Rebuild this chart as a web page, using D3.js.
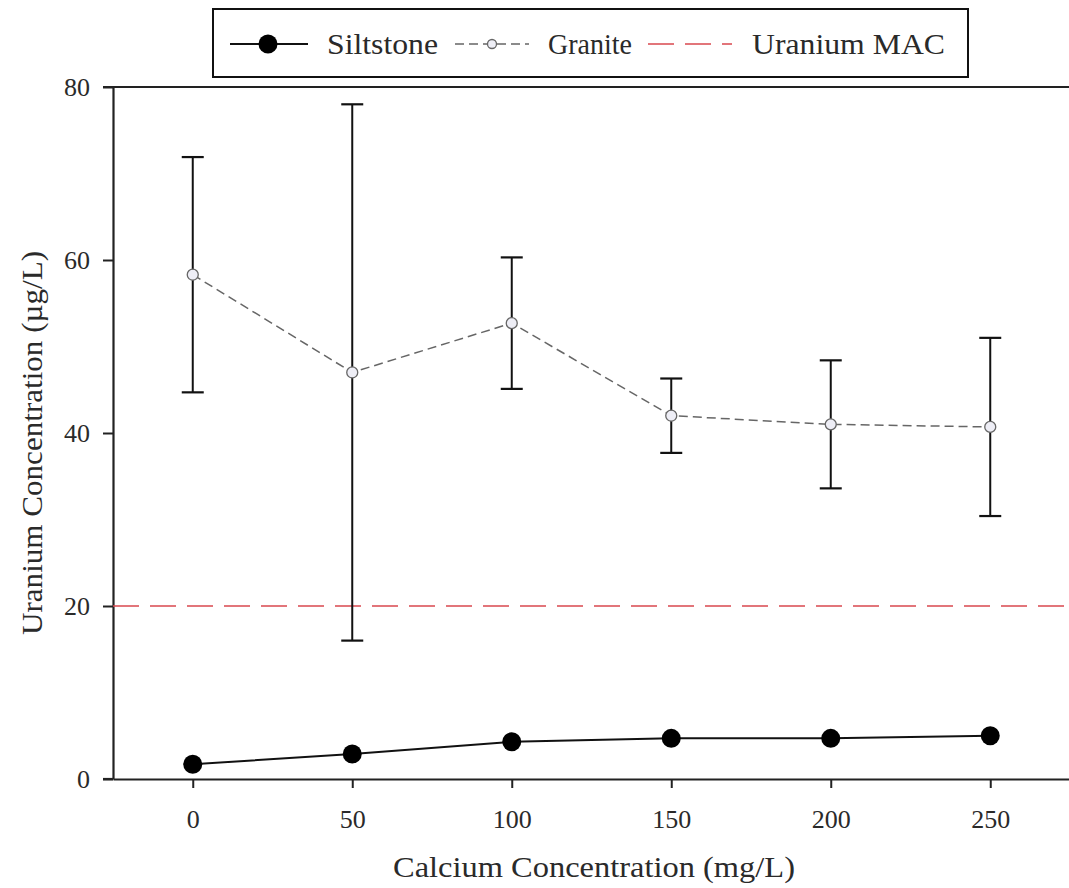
<!DOCTYPE html>
<html>
<head>
<meta charset="utf-8">
<script src="https://cdn.jsdelivr.net/npm/d3@7"></script>
<style>
  html, body { margin: 0; padding: 0; background: #fff; }
  svg { display: block; font-family: "Liberation Serif", "Times New Roman", serif; }
</style>
</head>
<body>
<svg id="chart" width="1069" height="888"></svg>
<script>
// Calcium concentration levels (mg/L)
const calcium = [0, 50, 100, 150, 200, 250];
// Mean uranium concentration (µg/L)
const siltstone = [1.7, 2.9, 4.3, 4.7, 4.7, 5.0];
const granite = [58.3, 47.0, 52.7, 42.0, 41.0, 40.7];
// Standard deviation for granite
const graniteSD = [13.6, 31.0, 7.6, 4.3, 7.4, 10.3];
// Maximum acceptable concentration for uranium
const uraniumMAC = 20;
const xTicks = [0, 50, 100, 150, 200, 250];
const yTicks = [0, 20, 40, 60, 80];

(function () {
const svg = d3.select("#chart");
const pL = 113, pR = 1070, pT = 87, pB = 779;

const x = d3.scaleLinear().domain([-25, 275]).range([pL, pR]);
const y = d3.scaleLinear().domain([0, 80]).range([pB, pT]);

// axes
const xAxis = svg.append("g")
  .attr("transform", `translate(0,${pB})`)
  .call(d3.axisBottom(x).tickValues(xTicks).tickSize(9).tickPadding(22).tickSizeOuter(0));
const yAxis = svg.append("g")
  .attr("transform", `translate(${pL},0)`)
  .call(d3.axisLeft(y).tickValues(yTicks).tickSize(10).tickPadding(13).tickSizeOuter(0));

[xAxis, yAxis].forEach(g => {
  g.select(".domain").attr("stroke", "#222").attr("stroke-width", 2.2);
  g.selectAll(".tick line").attr("stroke", "#222").attr("stroke-width", 2);
  g.selectAll(".tick text").attr("fill", "#2a2a2a").style("font-size", "26px")
    .style("font-family", "Liberation Serif, serif");
});
// extend bottom axis a bit left of the y axis
svg.append("line").attr("x1", 103).attr("x2", pL).attr("y1", pB).attr("y2", pB)
  .attr("stroke", "#222").attr("stroke-width", 2.2);
// top frame line
svg.append("line").attr("x1", 103).attr("x2", 1069).attr("y1", pT).attr("y2", pT)
  .attr("stroke", "#222").attr("stroke-width", 2.2);

// MAC reference line
svg.append("line")
  .attr("x1", pL).attr("x2", 1069)
  .attr("y1", y(uraniumMAC)).attr("y2", y(uraniumMAC))
  .attr("stroke", "#d9484f").attr("stroke-width", 1.3)
  .attr("stroke-dasharray", "26,11");

// granite error bars
const eb = svg.append("g");
calcium.forEach((c, i) => {
  const hi = y(granite[i] + graniteSD[i]), lo = y(granite[i] - graniteSD[i]);
  eb.append("line").attr("x1", x(c)).attr("x2", x(c)).attr("y1", hi).attr("y2", lo)
    .attr("stroke", "#111").attr("stroke-width", 2);
  [hi, lo].forEach(v => eb.append("line")
    .attr("x1", x(c) - 11).attr("x2", x(c) + 11).attr("y1", v).attr("y2", v)
    .attr("stroke", "#111").attr("stroke-width", 2.2));
});

// granite line
const line = d3.line().x((d, i) => x(calcium[i])).y(d => y(d));
svg.append("path").datum(granite).attr("d", line)
  .attr("fill", "none").attr("stroke", "#666").attr("stroke-width", 1.5)
  .attr("stroke-dasharray", "9,5");
svg.append("g").selectAll("circle").data(granite).join("circle")
  .attr("cx", (d, i) => x(calcium[i])).attr("cy", d => y(d)).attr("r", 5.5)
  .attr("fill", "#eeeef6").attr("stroke", "#666").attr("stroke-width", 1.3);

// siltstone line
svg.append("path").datum(siltstone).attr("d", line)
  .attr("fill", "none").attr("stroke", "#111").attr("stroke-width", 2);
svg.append("g").selectAll("circle").data(siltstone).join("circle")
  .attr("cx", (d, i) => x(calcium[i])).attr("cy", d => y(d)).attr("r", 9.5)
  .attr("fill", "#000");

// axis titles
svg.append("text").attr("x", 594).attr("y", 877)
  .attr("text-anchor", "middle").style("font-size", "30px").attr("fill", "#2a2a2a")
  .attr("textLength", 402).attr("lengthAdjust", "spacingAndGlyphs")
  .text("Calcium Concentration (mg/L)");
svg.append("text")
  .attr("transform", `translate(42,443) rotate(-90)`)
  .attr("text-anchor", "middle").style("font-size", "30px").attr("fill", "#2a2a2a")
  .attr("textLength", 384).attr("lengthAdjust", "spacingAndGlyphs")
  .text("Uranium Concentration (µg/L)");

// legend
const lg = svg.append("g");
lg.append("rect").attr("x", 213).attr("y", 9).attr("width", 755).attr("height", 68)
  .attr("fill", "#fff").attr("stroke", "#111").attr("stroke-width", 2);
const ly = 44;
const legendText = (x0, w, label) => lg.append("text").attr("x", x0).attr("y", ly + 10)
  .style("font-size", "30px").attr("fill", "#2a2a2a")
  .attr("textLength", w).attr("lengthAdjust", "spacingAndGlyphs").text(label);
lg.append("line").attr("x1", 230).attr("x2", 308).attr("y1", ly).attr("y2", ly)
  .attr("stroke", "#111").attr("stroke-width", 2);
lg.append("circle").attr("cx", 268).attr("cy", ly).attr("r", 9.5).attr("fill", "#000");
legendText(327, 111, "Siltstone");
lg.append("line").attr("x1", 455).attr("x2", 529).attr("y1", ly).attr("y2", ly)
  .attr("stroke", "#666").attr("stroke-width", 1.5).attr("stroke-dasharray", "9,5");
lg.append("circle").attr("cx", 492).attr("cy", ly).attr("r", 4.5)
  .attr("fill", "#eeeef6").attr("stroke", "#666").attr("stroke-width", 1.3);
legendText(548, 84, "Granite");
lg.append("line").attr("x1", 648).attr("x2", 732).attr("y1", ly).attr("y2", ly)
  .attr("stroke", "#d9484f").attr("stroke-width", 1.3).attr("stroke-dasharray", "26,11");
legendText(752, 193, "Uranium MAC");
})();
</script>
</body>
</html>
